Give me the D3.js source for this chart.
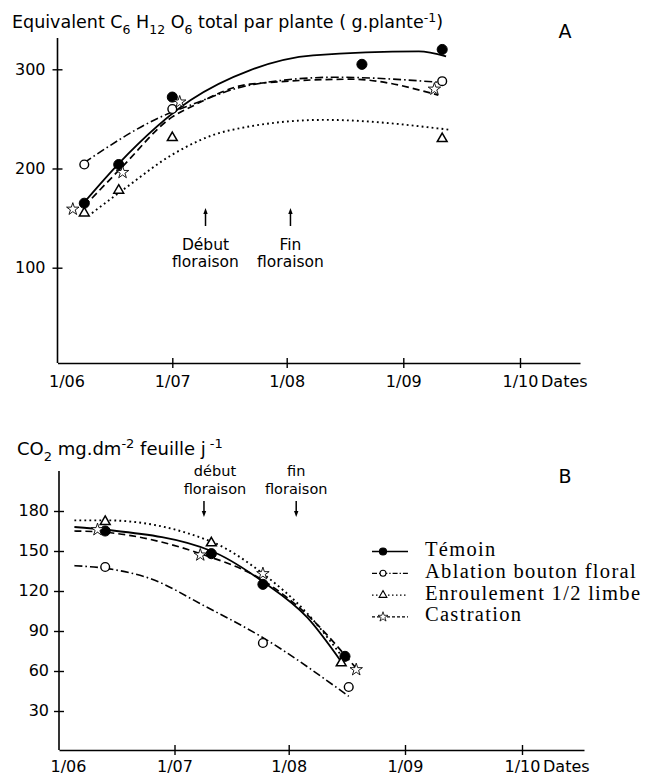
<!DOCTYPE html>
<html><head><meta charset="utf-8">
<script src="https://cdn.jsdelivr.net/npm/d3@7/dist/d3.min.js"></script>
<style>body{margin:0;background:#fff}svg{display:block}</style>
</head><body>
<script>
// ---------------- data ----------------
const monthTicks = ["06-01","07-01","08-01","09-01","10-01"];
const monthLabels = ["1/06","1/07","1/08","1/09","1/10"];
const axisEndA = "10-16", axisEndB = "10-17";
const yTicksA = [100,200,300];
const yTicksB = [30,60,90,120,150,180];
const seriesNames = ["Témoin","Ablation bouton floral","Enroulement 1/2 limbe","Castration"];

// Panel A : observed points
const temoinA_dates = ["06-08","06-17","07-01","08-21","09-11"];
const temoinA_vals  = [165,204,272,305,320];
const ablationA_dates = ["06-08","07-01","09-11"];
const ablationA_vals  = [204,260,288];
const enroulA_dates = ["06-08","06-17","07-01","09-11"];
const enroulA_vals  = [155,178,231,230];
const castrA_dates = ["06-05","06-18","07-03","09-09"];
const castrA_vals  = [159,196,267,280];

// Panel A : fitted curves
const temoinFitA_dates = ["06-08","06-17","07-06","07-22","08-08","09-05","09-12"];
const temoinFitA_vals  = [166,205,269,299,314,318,313];
const ablationFitA_dates = ["06-08","06-28","07-06","07-22","08-14","09-10"];
const ablationFitA_vals  = [206,252,264,284,292,287];
const enroulFitA_dates = ["06-10","06-19","07-01","07-16","08-11","09-13"];
const enroulFitA_vals  = [155,181,214,238,249,239];
const castrFitA_dates = ["06-08","06-18","07-01","07-06","07-22","08-18","09-10"];
const castrFitA_vals  = [162,202,252,262,285,290,274];

// Panel B : observed points
const temoinB_dates = ["06-13","07-11","07-25","08-16"];
const temoinB_vals  = [165,148,125,71];
const ablationB_dates = ["06-13","07-25","08-17"];
const ablationB_vals  = [138,81,48];
const enroulB_dates = ["06-13","07-11","08-15"];
const enroulB_vals  = [172,156,66];
const castrB_dates = ["06-11","07-08","07-25","08-19"];
const castrB_vals  = [166,147,133,61];

// Panel B : fitted curves
const temoinFitB_dates = ["06-05","06-13","07-11","07-25","08-06","08-15"];
const temoinFitB_vals  = [168,166,150,127,100,67];
const ablationFitB_dates = ["06-05","06-13","06-25","07-09","07-25","08-17"];
const ablationFitB_vals  = [139,137,129,109,85,41];
const enroulFitB_dates = ["06-05","06-13","07-11","07-25","08-06","08-16"];
const enroulFitB_vals  = [173,173,157,133,103,68];
const castrFitB_dates = ["06-05","06-13","07-08","07-25","08-06","08-19"];
const castrFitB_vals  = [165,164,148,128,102,62];

// flowering annotations
const floweringA_dates = ["07-10","08-02"];
const floweringA_labels = [["Début","floraison"],["Fin","floraison"]];
const floweringB_dates = ["07-09","08-03"];
const floweringB_labels = [["début","floraison"],["fin","floraison"]];

// ---------------- helpers ----------------
const pd = s => { const [m,d] = s.split("-").map(Number); return new Date(1985, m-1, d); };
const zip = (ds, vs) => ds.map((d,i) => ({date: pd(d), v: vs[i]}));

const W = 657, H = 775;
const svg = d3.select("body").append("svg").attr("width", W).attr("height", H);
const SANS = "'DejaVu Sans', sans-serif";
const SERIF = "'Liberation Serif', 'Times New Roman', serif";

const styles = [
  {dash: null, sym: d3.symbolCircle, size: 80, fill: "#000", sw: 1.8},
  {dash: "8,3,1.6,3", sym: d3.symbolCircle, size: 60, fill: "#fff", sw: 1.6},
  {dash: "1.8,3.2", sym: d3.symbolTriangle, size: 42, fill: "#fff", sw: 1.9},
  {dash: "7,4", sym: d3.symbolStar, size: 48, fill: "#fff", sw: 1.7}
];
const markStroke = [1, 1.4, 1.5, 0.9];

function panel(cfg) {
  const {x, y, axisY, yTop, yTicks, obs, fits, yLabelGap} = cfg;
  const g = svg.append("g");
  const x0 = x(x.domain()[0]);
  // x axis
  const xa = g.append("g").attr("transform", `translate(0,${axisY})`)
    .call(d3.axisBottom(x).tickValues(monthTicks.map(pd))
      .tickFormat((d,i) => monthLabels[i]).tickSize(5).tickSizeOuter(0));
  xa.select(".domain").attr("stroke", "#000").attr("stroke-width", 1.6);
  xa.selectAll(".tick line").attr("y1", -5).attr("y2", 5).attr("stroke-width", 1.4);
  xa.selectAll(".tick text").attr("y", cfg.xLabelY).attr("dy", 0)
    .attr("font-family", SANS).attr("font-size", 16).attr("fill", "#000")
    .attr("dx", (d,i) => i === 0 ? 9 : 0);
  xa.selectAll(".tick").filter((d,i) => i === 0).select("line").remove();
  g.append("text").attr("x", x(pd(monthTicks[4])) + 21).attr("y", axisY + cfg.xLabelY)
    .attr("font-family", SANS).attr("font-size", 16).text("Dates");
  // y axis
  const ya = g.append("g").attr("transform", `translate(${x0},0)`)
    .call(d3.axisLeft(y).tickValues(yTicks).tickSize(5).tickSizeOuter(0));
  ya.select(".domain").remove();
  ya.selectAll(".tick line").attr("x1", -5).attr("x2", 5).attr("stroke-width", 1.4);
  ya.selectAll(".tick text").attr("x", -yLabelGap).attr("dy", "0.3em")
    .attr("font-family", SANS).attr("font-size", 16).attr("fill", "#000");
  g.append("line").attr("x1", x0).attr("x2", x0).attr("y1", yTop).attr("y2", axisY)
    .attr("stroke", "#000").attr("stroke-width", 1.6);
  // fitted curves
  const line = d3.line().x(d => x(d.date)).y(d => y(d.v)).curve(d3.curveMonotoneX);
  fits.forEach((f, i) => {
    g.append("path").attr("d", line(f)).attr("fill", "none").attr("stroke", "#000")
      .attr("stroke-width", styles[i].sw).attr("stroke-dasharray", styles[i].dash);
  });
  // points
  obs.forEach((pts, i) => {
    g.selectAll(null).data(pts).join("path")
      .attr("transform", d => `translate(${x(d.date)},${y(d.v)})`)
      .attr("d", d3.symbol().type(styles[i].sym).size(styles[i].size))
      .attr("fill", styles[i].fill).attr("stroke", "#000").attr("stroke-width", markStroke[i]);
  });
  return g;
}

// ---------------- panel A ----------------
const xA = d3.scaleTime().domain(monthTicks.concat([axisEndA]).map(pd))
  .range([57.5,172.3,286.7,403.3,520,580]);
const yA = d3.scaleLinear().domain([0,300]).range([366.9,69.3]);
const gA = panel({x: xA, y: yA, axisY: 363, yTop: 38, yTicks: yTicksA, xLabelY: 24, yLabelGap: 12,
  obs: [zip(temoinA_dates,temoinA_vals), zip(ablationA_dates,ablationA_vals),
        zip(enroulA_dates,enroulA_vals), zip(castrA_dates,castrA_vals)],
  fits: [zip(temoinFitA_dates,temoinFitA_vals), zip(ablationFitA_dates,ablationFitA_vals),
         zip(enroulFitA_dates,enroulFitA_vals), zip(castrFitA_dates,castrFitA_vals)]});

// title A
const tA = svg.append("text").attr("x", 12).attr("y", 28).attr("font-family", SANS).attr("font-size", 17.5);
tA.append("tspan").text("Equivalent C");
tA.append("tspan").attr("dy", 6).attr("font-size", 12.5).text("6");
tA.append("tspan").attr("dy", -6).text(" H");
tA.append("tspan").attr("dy", 6).attr("font-size", 12.5).text("12");
tA.append("tspan").attr("dy", -6).text(" O");
tA.append("tspan").attr("dy", 6).attr("font-size", 12.5).text("6");
tA.append("tspan").attr("dy", -6).text(" total par plante ( g.plante");
tA.append("tspan").attr("dy", -6).attr("font-size", 12.5).text("-1");
tA.append("tspan").attr("dy", 6).text(")");
svg.append("text").attr("x", 565).attr("y", 38).attr("text-anchor", "middle")
  .attr("font-family", SANS).attr("font-size", 19).text("A");

// flowering arrows A (pointing up)
floweringA_dates.forEach((d, i) => {
  const ax = xA(pd(d));
  gA.append("line").attr("x1", ax).attr("x2", ax).attr("y1", 226).attr("y2", 212)
    .attr("stroke", "#000").attr("stroke-width", 1.5);
  gA.append("path").attr("d", `M${ax-2.2},${214}L${ax},${208}L${ax+2.2},${214}Z`).attr("fill", "#000");
  floweringA_labels[i].forEach((t, j) => {
    gA.append("text").attr("x", ax).attr("y", 250 + j*17).attr("text-anchor", "middle")
      .attr("font-family", SANS).attr("font-size", 15.5).text(t);
  });
});

// ---------------- panel B ----------------
const xB = d3.scaleTime().domain(monthTicks.concat([axisEndB]).map(pd))
  .range([59,174.5,288.7,405,522,584]);
const yB = d3.scaleLinear().domain([30,180]).range([711,511]);
const gB = panel({x: xB, y: yB, axisY: 750, yTop: 471, yTicks: yTicksB, xLabelY: 22, yLabelGap: 10,
  obs: [zip(temoinB_dates,temoinB_vals), zip(ablationB_dates,ablationB_vals),
        zip(enroulB_dates,enroulB_vals), zip(castrB_dates,castrB_vals)],
  fits: [zip(temoinFitB_dates,temoinFitB_vals), zip(ablationFitB_dates,ablationFitB_vals),
         zip(enroulFitB_dates,enroulFitB_vals), zip(castrFitB_dates,castrFitB_vals)]});

// title B
const tB = svg.append("text").attr("x", 17).attr("y", 455).attr("font-family", SANS).attr("font-size", 18);
tB.append("tspan").text("CO");
tB.append("tspan").attr("dy", 6).attr("font-size", 13).text("2");
tB.append("tspan").attr("dy", -6).text(" mg.dm");
tB.append("tspan").attr("dy", -7).attr("font-size", 13).text("-2");
tB.append("tspan").attr("dy", 7).text(" feuille  j");
tB.append("tspan").attr("dy", -7).attr("font-size", 13).text(" -1");
svg.append("text").attr("x", 565).attr("y", 483).attr("text-anchor", "middle")
  .attr("font-family", SANS).attr("font-size", 19).text("B");

// flowering arrows B (pointing down)
floweringB_dates.forEach((d, i) => {
  const ax = xB(pd(d));
  gB.append("line").attr("x1", ax).attr("x2", ax).attr("y1", 501).attr("y2", 513)
    .attr("stroke", "#000").attr("stroke-width", 1.5);
  gB.append("path").attr("d", `M${ax-2.2},${511}L${ax},${517}L${ax+2.2},${511}Z`).attr("fill", "#000");
  floweringB_labels[i].forEach((t, j) => {
    gB.append("text").attr("x", ax + (i === 0 ? 11 : 0)).attr("y", 476 + j*17.5).attr("text-anchor", "middle")
      .attr("font-family", SANS).attr("font-size", 14.5).text(t);
  });
});

// ---------------- legend ----------------
const leg = svg.append("g");
const legDash = [null, "5,2,1.3,2", "1.5,2.5", "3,2"];
const legSym = [40, 28, 26, 30];
seriesNames.forEach((name, i) => {
  const by = 556 + i*21.8;
  const ly = by - 4.5;
  leg.append("line").attr("x1", 372).attr("x2", 408).attr("y1", ly).attr("y2", ly)
    .attr("stroke", "#000").attr("stroke-width", i === 0 ? 1.6 : 1.3)
    .attr("stroke-dasharray", legDash[i]);
  leg.append("path").attr("transform", `translate(383,${ly})`)
    .attr("d", d3.symbol().type(styles[i].sym).size(legSym[i]))
    .attr("fill", styles[i].fill).attr("stroke", "#000").attr("stroke-width", i === 3 ? 0.8 : 1.1);
  leg.append("text").attr("x", 425).attr("y", by).attr("font-family", SERIF).attr("font-size", 20.5)
    .attr("letter-spacing", 1.3).text(name);
});
</script>
</body></html>
